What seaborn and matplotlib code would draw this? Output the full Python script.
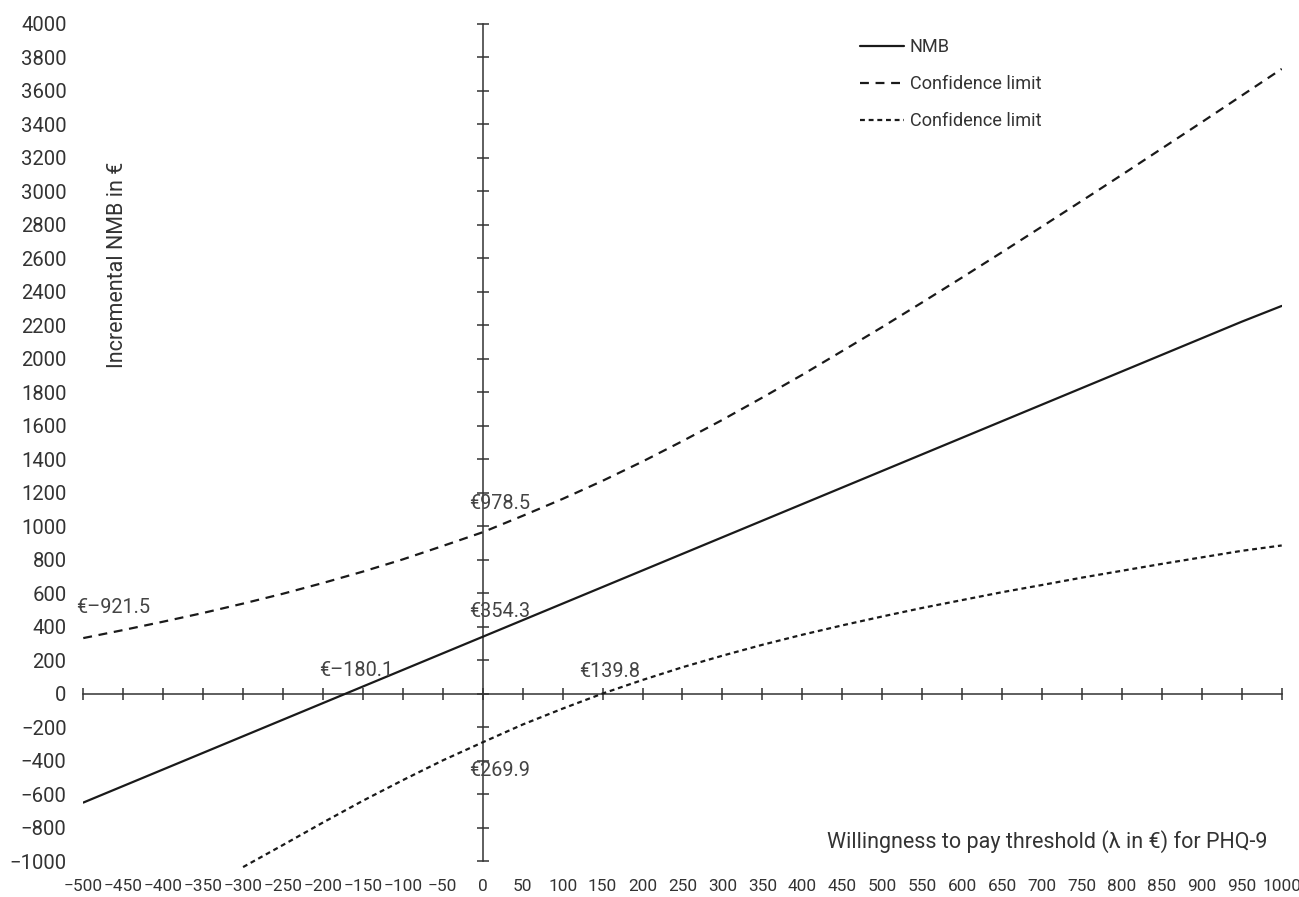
import matplotlib
matplotlib.use('Agg')
import matplotlib.pyplot as plt
import seaborn as sns

# willingness to pay grid (lambda in EUR)
wtp = [-500, -450, -400, -350, -300, -250, -200, -150, -100, -50, 0,
       50, 100, 150, 200, 250, 300, 350, 400, 450, 500,
       550, 600, 650, 700, 750, 800, 850, 900, 950, 1000]

nmb = [-650, -551, -452, -353, -254, -155, -56, 43, 142, 241, 340,
       439, 538, 637, 736, 835, 934, 1033, 1132, 1231, 1330,
       1429, 1528, 1627, 1726, 1825, 1924, 2023, 2122, 2221, 2315]

upper_ci = [332, 380, 430, 482, 538, 597, 661, 729, 802, 882, 964,
            1062, 1163, 1271, 1386, 1508, 1635, 1768, 1904, 2046, 2189,
            2336, 2485, 2636, 2789, 2943, 3098, 3255, 3412, 3571, 3730]

lower_wtp = [-300, -250, -200, -150, -100, -50, 0, 50, 100, 150, 200,
             250, 300, 350, 400, 450, 500, 550, 600, 650, 700,
             750, 800, 850, 900, 950, 1000]

lower_ci = [-1035, -903, -769, -639, -516, -398, -290, -184, -89, 1, 82,
            158, 227, 292, 352, 408, 461, 512, 559, 606, 649,
            693, 734, 775, 814, 853, 885]

x_ticks = list(range(-500, 1001, 50))
y_ticks = list(range(-1000, 4001, 200))

series_labels = ['NMB', 'Confidence limit', 'Confidence limit']
ylabel = 'Incremental NMB in €'
xlabel = 'Willingness to pay threshold (λ in €) for PHQ-9'

sns.set_style('white')
plt.rcParams['font.family'] = ['Roboto', 'DejaVu Sans']

ink = '#1a1a1a'
grey = '#333333'

fig = plt.figure(figsize=(12.99, 8.97), dpi=100)
ax = fig.add_axes([0.0641, 0.0399, 0.9226, 0.9337])

sns.lineplot(x=wtp, y=nmb, ax=ax, color=ink, linewidth=1.6,
             label=series_labels[0])
sns.lineplot(x=wtp, y=upper_ci, ax=ax, color=ink, linewidth=1.6,
             linestyle=(0, (4.0, 3.0)), label=series_labels[1])
sns.lineplot(x=lower_wtp, y=lower_ci, ax=ax, color=ink, linewidth=1.6,
             linestyle=(0, (2.2, 1.7)), label=series_labels[2], clip_on=False)

ax.set_xlim(-500, 1000)
ax.set_ylim(-1000, 4000)
for s in ax.spines.values():
    s.set_visible(False)
ax.set_xticks(x_ticks)
ax.set_yticks(y_ticks)
ax.tick_params(axis='x', length=0, pad=13, labelsize=12.4, labelcolor=grey)
ax.tick_params(axis='y', length=0, pad=12, labelsize=14.6, labelcolor=grey)
ax.set_xlabel('')
ax.set_ylabel('')

# axes crossing at zero
sec_y = ax.secondary_yaxis(1 / 3)
sec_y.set_yticks(y_ticks)
sec_y.tick_params(direction='inout', length=8, width=1.1, color=grey,
                  labelleft=False, labelright=False)
sec_x = ax.secondary_xaxis(0.2)
sec_x.set_xticks(x_ticks)
sec_x.tick_params(direction='inout', length=8, width=1.1, color=grey,
                  labelbottom=False, labeltop=False)
for sec in (sec_x, sec_y):
    for s in sec.spines.values():
        s.set_color(grey)
        s.set_linewidth(1.1)

ax.text(-457, 2560, ylabel, rotation=90, ha='center', va='center',
        fontsize=15.5, color=grey)
ax.text(982, -884, xlabel, ha='right', va='center', fontsize=15.5, color=grey)

note = dict(ha='left', va='center', fontsize=14.3, color='#444444')
ax.text(-509, 513, '€–921.5', **note)
ax.text(-17, 1133, '€978.5', **note)
ax.text(-17, 492, '€354.3', **note)
ax.text(-205, 140, '€–180.1', **note)
ax.text(121, 135, '€139.8', **note)
ax.text(-17, -458, '€269.9', **note)

handles, labels = ax.get_legend_handles_labels()
ax.legend(handles, labels, loc='upper left', bbox_to_anchor=(0.648, 0.983),
          frameon=False, fontsize=13.1, handlelength=2.4, handletextpad=0.35,
          labelspacing=1.05, borderpad=0, borderaxespad=0, labelcolor=grey)

fig.savefig('out.png', dpi=100)
plt.close(fig)
